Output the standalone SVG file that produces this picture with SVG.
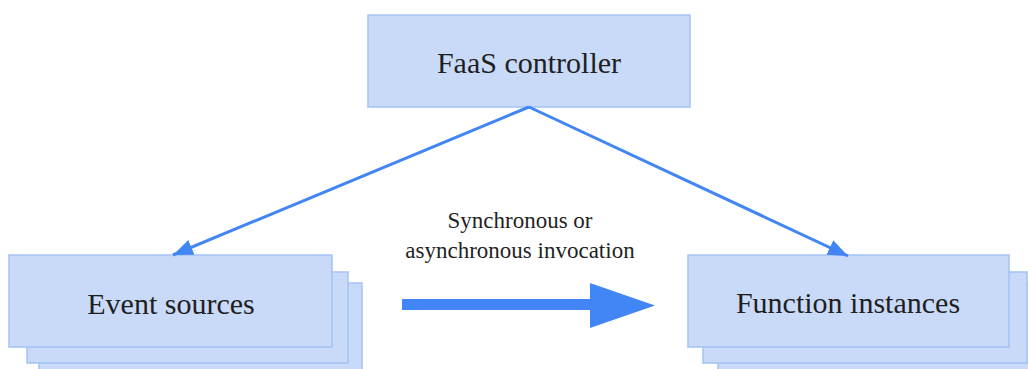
<svg xmlns="http://www.w3.org/2000/svg" width="1028" height="369" viewBox="0 0 1028 369">
<style>
.box{fill:#c9daf8;stroke:#a4c2f4;stroke-width:1.5}
.lbl{font-family:"Liberation Serif","Times New Roman",serif;font-size:30px;fill:#1f1f1f;text-anchor:middle}
.note{font-family:"Liberation Serif","Times New Roman",serif;font-size:23px;fill:#1f1f1f;text-anchor:middle}
.conn{stroke:#4285f4;stroke-width:3;fill:none}
</style>
<defs>
<marker id="ah" markerUnits="userSpaceOnUse" markerWidth="22" markerHeight="18" refX="20" refY="8" orient="auto">
<path d="M0,0 L20,8 L0,16 Z" fill="#4285f4"/>
</marker>
</defs>
<rect width="1028" height="369" fill="#fff"/>
<g id="controller">
<rect class="box" x="368" y="15" width="322" height="92"/>
<text class="lbl" x="529" y="73">FaaS controller</text>
</g>
<g id="event-sources">
<rect class="box" x="39" y="283" width="323" height="92"/>
<rect class="box" x="27" y="272" width="321" height="91"/>
<rect class="box" x="9" y="255" width="323" height="92"/>
<text class="lbl" x="171" y="314">Event sources</text>
</g>
<g id="function-instances">
<rect class="box" x="718" y="283" width="323" height="92"/>
<rect class="box" x="703" y="272" width="324" height="91"/>
<rect class="box" x="688" y="255" width="321" height="92"/>
<text class="lbl" x="848" y="313">Function instances</text>
</g>
<g id="connectors">
<line class="conn" x1="529" y1="107" x2="173" y2="255" marker-end="url(#ah)"/>
<line class="conn" x1="529" y1="107" x2="848" y2="256" marker-end="url(#ah)"/>
<path d="M402,299 L590,299 L590,283 L655,305.5 L590,328 L590,310 L402,310 Z" fill="#4285f4"/>
<text class="note" x="520" y="228">Synchronous or</text>
<text class="note" x="520" y="258">asynchronous invocation</text>
</g>
</svg>
